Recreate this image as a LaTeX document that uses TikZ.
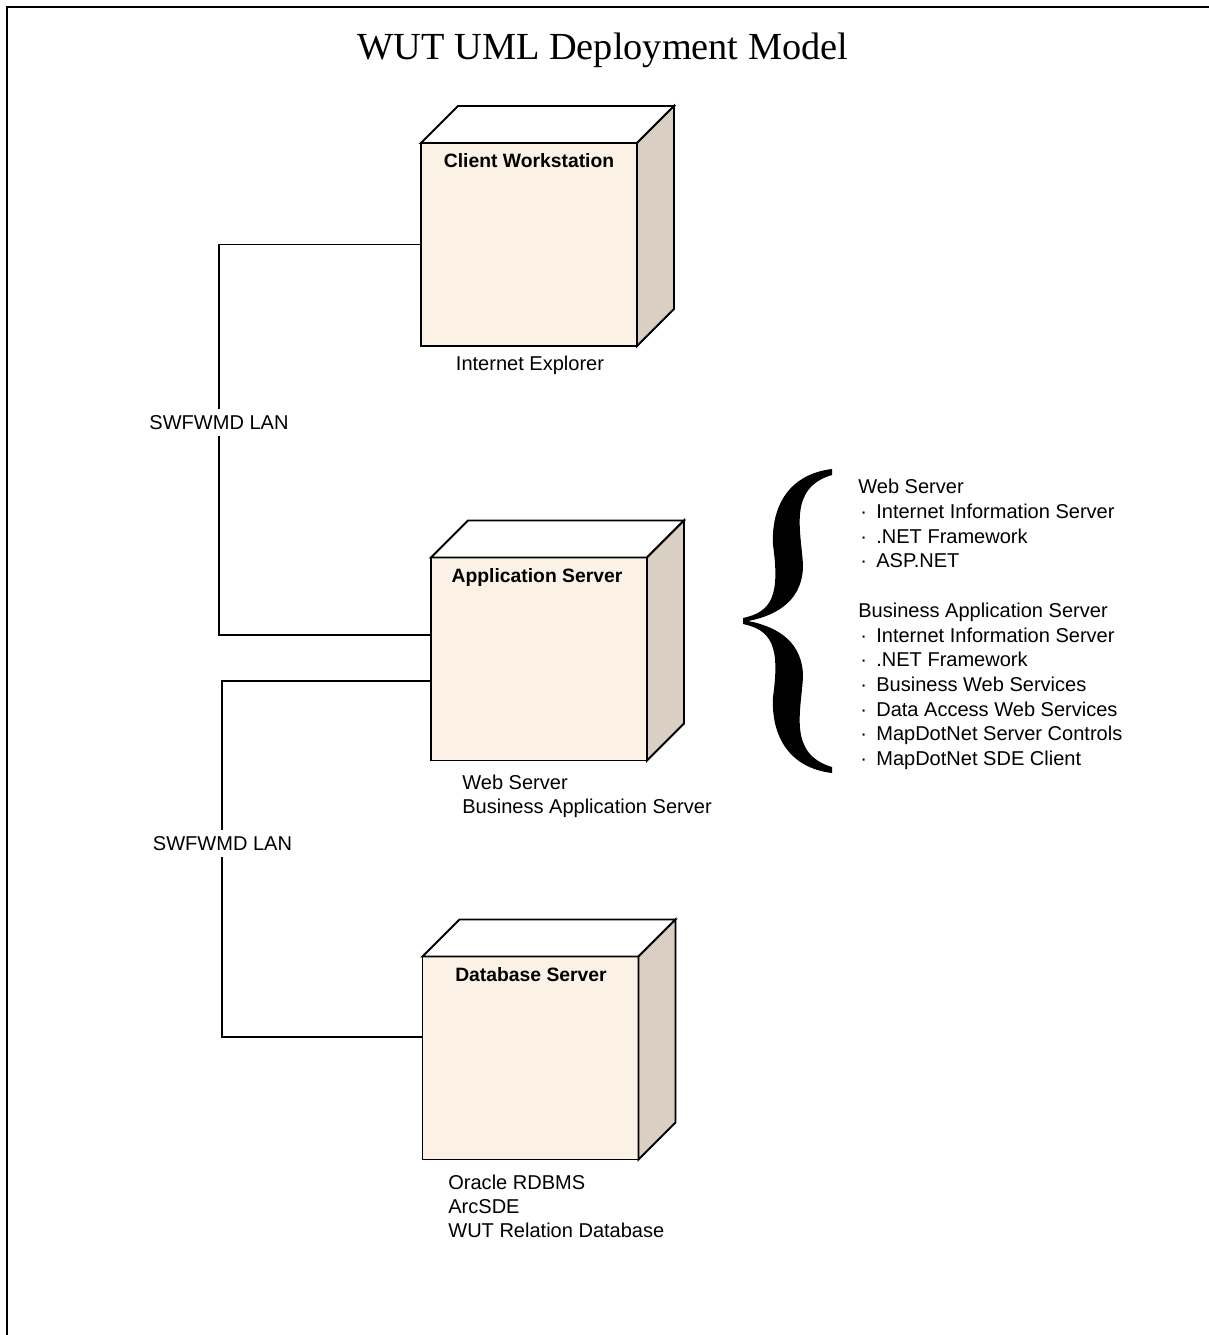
\documentclass[tikz,border=0pt]{standalone}
\usepackage{fontspec}
\setmainfont{Liberation Serif}
\setsansfont{Liberation Sans}
\usetikzlibrary{positioning, calc}
\definecolor{NodeFace}{RGB}{251,241,228}
\definecolor{NodeSide}{RGB}{217,208,195}

\tikzset{
    nodeedge/.style={draw=black, line width=1.1pt, line join=miter},
    nodebox/.style={nodeedge, fill=NodeFace, minimum width=4.32cm, minimum height=4.06cm,
        inner sep=0pt, outer sep=0pt},
    nodetitle/.style={font=\sffamily\bfseries\fontsize{11}{13}\selectfont, anchor=base, inner sep=0pt},
    svctext/.style={font=\sffamily\fontsize{11.4}{14}\selectfont, anchor=base west, inner sep=0pt},
    lan/.style={draw=black, line width=1pt},
    lanlabel/.style={font=\sffamily\fontsize{11.4}{14}\selectfont, fill=white, inner sep=3.5pt}
}

\begin{document}
\begin{tikzpicture}[x=0.02cm, y=-0.02cm]
\useasboundingbox (0,0) rectangle (1209,1335);

% cadre
\draw[line width=1.2pt] (7,1335) -- (7,7) -- (1209,7);

% titre
\node[font=\rmfamily\fontsize{21.8}{26}\selectfont, anchor=base] (title) at (603,60)
    {WUT UML Deployment Model};

% noeuds (face avant)
\node[nodebox] (cw) at (529,244.5) {};
\node[nodebox] (appsrv) at (539,659) {};
\node[nodebox] (dbsrv) at (530.5,1058) {};

% faces du dessus et de cote
\foreach \n in {cw,appsrv,dbsrv}{
    \draw[nodeedge, fill=white] (\n.north west) -- ++(37,-37)
        -- ($(\n.north east)+(37,-37)$) -- (\n.north east) -- cycle;
    \draw[nodeedge, fill=NodeSide] (\n.north east) -- ($(\n.north east)+(37,-37)$)
        -- ($(\n.south east)+(37,-37)$) -- (\n.south east) -- cycle;
}

% noms des noeuds
\node[nodetitle] (cwtitle) at (529,167) {Client Workstation};
\node[nodetitle] (apptitle) at (537,582) {Application Server};
\node[nodetitle] (dbtitle) at (531,981) {Database Server};

% composants sous les noeuds
\node[svctext, anchor=base] (cwie) at (530,370) {Internet Explorer};
\node[svctext] (appweb) at (462,789) {Web Server};
\node[svctext] (appbiz) at (462,813) {Business Application Server};
\node[svctext] (dbora) at (448,1189) {Oracle RDBMS};
\node[svctext] (dbsde) at (448,1213) {ArcSDE};
\node[svctext] (dbrel) at (448,1237) {WUT Relation Database};

% liaisons LAN
\draw[lan] (cw.west) -- ++(-202,0) |- ($(appsrv.west)+(0,-24)$);
\draw[lan] ($(appsrv.west)+(0,22)$) -- ++(-209,0) |- ($(dbsrv.west)+(0,-21)$);
\node[lanlabel] (lan1) at (219,422.5) {SWFWMD LAN};
\node[lanlabel] (lan2) at (222.5,843.5) {SWFWMD LAN};

% accolade
\fill[black] (832,469) .. controls (790,474) and (771,505) .. (773,545)
    .. controls (780,595) and (772,612) .. (743,618)
    -- (743,624)
    .. controls (772,630) and (780,647) .. (773,697)
    .. controls (771,737) and (790,768) .. (832,773)
    -- (832,767)
    .. controls (788,754) and (801,712) .. (803,677)
    .. controls (803,644) and (780,627) .. (748,621)
    .. controls (780,615) and (803,598) .. (803,565)
    .. controls (801,530) and (788,488) .. (832,475)
    -- cycle;

% liste des services
\node[svctext] (websrv) at (858,493) {Web Server};
\node[svctext] (bizsrv) at (858,617) {Business Application Server};
\foreach \y/\t in {518/Internet Information Server, 543/.NET Framework, 567/ASP.NET,
    642/Internet Information Server, 666/.NET Framework, 691/Business Web Services,
    716/Data Access Web Services, 740/MapDotNet Server Controls, 765/MapDotNet SDE Client}{
    \node[svctext] (item\y) at (860,\y) {\textperiodcentered\hspace{5.3pt}\t};
}

\end{tikzpicture}
\end{document}
